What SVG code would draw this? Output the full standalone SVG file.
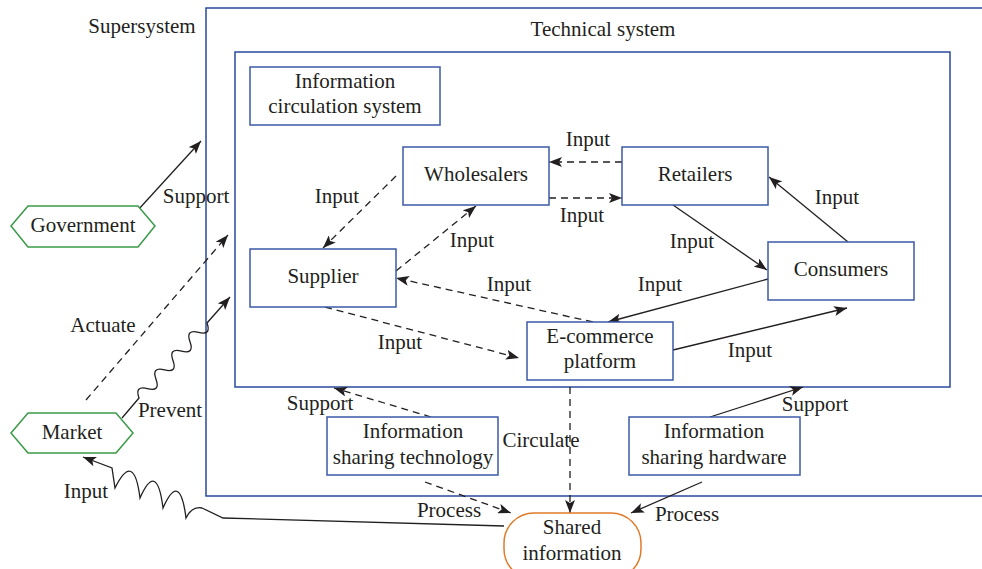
<svg xmlns="http://www.w3.org/2000/svg" width="982" height="569" viewBox="0 0 982 569">
<style>
text{font-family:"Liberation Serif","Times New Roman",serif;font-size:21px;fill:#231f20;text-anchor:middle}
.sys{fill:none;stroke:#2b4a9c;stroke-width:1.5}
.box{fill:#fff;stroke:#3d5aa8;stroke-width:1.5}
.hex{fill:#fff;stroke:#3a9a48;stroke-width:1.5}
.oval{fill:#fff;stroke:#e07b2a;stroke-width:1.5}
.c{fill:none;stroke:#231f20;stroke-width:1.3}
.d{stroke-dasharray:7 5}
</style>
<defs>
<marker id="ah" markerUnits="userSpaceOnUse" markerWidth="14" markerHeight="10" refX="13" refY="5" orient="auto">
<path d="M0,0 L13,5 L0,10 L3,5 Z" fill="#231f20"/>
</marker>
</defs>
<g id="supersystem">
<rect class="sys" x="206" y="8" width="790" height="488"/>
<text x="142" y="33">Supersystem</text>
</g>
<g id="technical-system">
<rect class="sys" x="235" y="52" width="715" height="335"/>
<text x="603" y="36">Technical system</text>
</g>
<g id="connectors">
<path class="c" d="M138,210 L201,141" marker-end="url(#ah)"/>
<path class="c d" d="M86,400 L228,235" marker-end="url(#ah)"/>
<path class="c" d="M122,418 L139,398 Q134.35,385.25 147.5,388.625 Q160.65,392 156,379.25 Q151.35,366.5 164.5,369.875 Q177.65,373.25 173,360.5 Q168.35,347.75 181.5,351.125 Q194.65,354.5 190,341.75 Q185.35,329 198.5,332.375 Q211.65,335.75 207,323 L230,297" marker-end="url(#ah)"/>
<path class="c" d="M504,526 L223,518 L202,508 Q192,506 186,518 Q180,470 163,508 Q157,460 140,498 Q134,450 115,488 L112,468 L83,457" marker-end="url(#ah)"/>
<path class="c d" d="M622,162 L549,162" marker-end="url(#ah)"/>
<path class="c d" d="M549,198 L622,198" marker-end="url(#ah)"/>
<path class="c d" d="M396,176 L323,248" marker-end="url(#ah)"/>
<path class="c d" d="M396,271 L476,206" marker-end="url(#ah)"/>
<path class="c d" d="M593,322 L396,278" marker-end="url(#ah)"/>
<path class="c d" d="M325,307 L519,358" marker-end="url(#ah)"/>
<path class="c" d="M848,242 L769,177" marker-end="url(#ah)"/>
<path class="c" d="M673,205 L767,270" marker-end="url(#ah)"/>
<path class="c" d="M768,279 L608,322" marker-end="url(#ah)"/>
<path class="c" d="M673,350 L847,308" marker-end="url(#ah)"/>
<path class="c d" d="M431,417 L334,388" marker-end="url(#ah)"/>
<path class="c" d="M710,417 L803,387" marker-end="url(#ah)"/>
<path class="c d" d="M570,387 L570,513" marker-end="url(#ah)"/>
<path class="c d" d="M425,482 L511,513" marker-end="url(#ah)"/>
<path class="c" d="M702,482 L631,513" marker-end="url(#ah)"/>
<text x="196" y="203">Support</text>
<text x="103" y="332">Actuate</text>
<text x="170" y="417">Prevent</text>
<text x="86" y="498">Input</text>
<text x="588" y="146">Input</text>
<text x="582" y="222">Input</text>
<text x="337" y="203">Input</text>
<text x="472" y="247">Input</text>
<text x="509" y="291">Input</text>
<text x="400" y="349">Input</text>
<text x="837" y="204">Input</text>
<text x="692" y="248">Input</text>
<text x="660" y="291">Input</text>
<text x="750" y="357">Input</text>
<text x="320" y="410">Support</text>
<text x="541" y="447">Circulate</text>
<text x="815" y="411">Support</text>
<text x="449" y="517">Process</text>
<text x="687" y="521">Process</text>
</g>
<g id="government">
<polygon class="hex" points="11,226 28,206 138,206 155,226 138,247 28,247"/>
<text x="83" y="232">Government</text>
</g>
<g id="market">
<polygon class="hex" points="11,433 28,413 116,413 133,433 116,453 28,453"/>
<text x="72" y="439">Market</text>
</g>
<g id="information-circulation-system">
<rect class="box" x="250" y="67" width="190" height="58"/>
<text x="345" y="88">Information</text>
<text x="345" y="113">circulation system</text>
</g>
<g id="wholesalers">
<rect class="box" x="403" y="147" width="146" height="58"/>
<text x="476" y="181">Wholesalers</text>
</g>
<g id="retailers">
<rect class="box" x="622" y="147" width="146" height="58"/>
<text x="695" y="181">Retailers</text>
</g>
<g id="supplier">
<rect class="box" x="250" y="249" width="146" height="58"/>
<text x="323" y="283">Supplier</text>
</g>
<g id="consumers">
<rect class="box" x="768" y="242" width="146" height="58"/>
<text x="841" y="276">Consumers</text>
</g>
<g id="e-commerce-platform">
<rect class="box" x="527" y="322" width="146" height="58"/>
<text x="600" y="343">E-commerce</text>
<text x="600" y="368">platform</text>
</g>
<g id="information-sharing-technology">
<rect class="box" x="327" y="417" width="171" height="58"/>
<text x="413" y="438">Information</text>
<text x="413" y="464">sharing technology</text>
</g>
<g id="information-sharing-hardware">
<rect class="box" x="629" y="417" width="171" height="58"/>
<text x="714" y="438">Information</text>
<text x="714" y="464">sharing hardware</text>
</g>
<g id="shared-information">
<rect class="oval" x="504" y="513" width="137" height="66" rx="30" ry="30"/>
<text x="572" y="534">Shared</text>
<text x="572" y="560">information</text>
</g>
</svg>
